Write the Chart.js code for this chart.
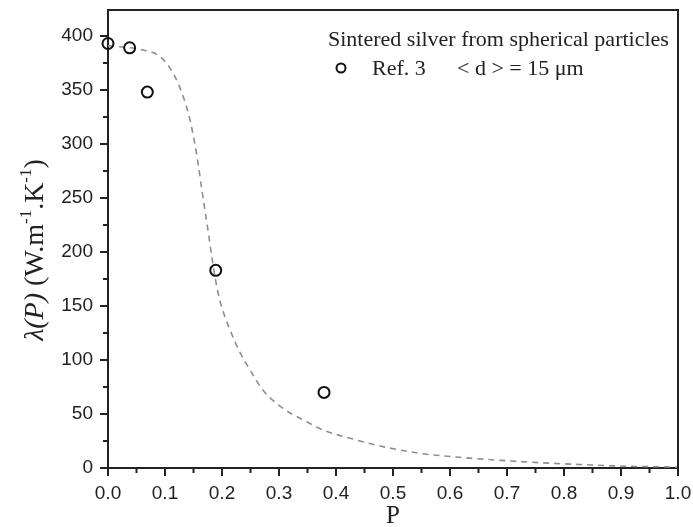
<!DOCTYPE html>
<html>
<head>
<meta charset="utf-8">
<script src="https://cdn.jsdelivr.net/npm/chart.js@4.4.1/dist/chart.umd.min.js"></script>
<style>
  html, body { margin: 0; padding: 0; background: #fff; }
  #wrap { width: 693px; height: 527px; }
</style>
</head>
<body>
<div id="wrap"><canvas id="chart" width="693" height="527"></canvas></div>
<script>
// measured points (Ref. 3)
const measP = [0.0, 0.038, 0.069, 0.189, 0.379];
const measL = [393, 389, 348, 183, 70];

// dashed model curve
const curveP = [0, 0.02, 0.056, 0.091, 0.109, 0.123, 0.135, 0.144, 0.151, 0.158, 0.164, 0.17, 0.176, 0.182, 0.188, 0.196, 0.214, 0.232, 0.249, 0.272, 0.3075, 0.343, 0.378, 0.425, 0.477, 0.547, 0.617, 0.688, 0.758, 0.82, 0.9, 1.0];
const curveL = [391, 390, 387.6, 381, 370, 356, 339, 322, 304, 282, 260, 239, 218, 196, 176, 155.5, 128, 106.5, 91, 72, 55, 44.4, 35, 27.5, 20.4, 13.6, 9.9, 7.1, 4.9, 3.4, 1.8, 0.8];

const xTicks = [0, 0.1, 0.2, 0.3, 0.4, 0.5, 0.6, 0.7, 0.8, 0.9, 1.0];
const yTicks = [0, 50, 100, 150, 200, 250, 300, 350, 400];

const INK = "#222";
const SERIF = "'Liberation Serif', 'DejaVu Serif', serif";
const SANS = "'Liberation Sans', Arial, sans-serif";

const framePlugin = {
  id: "frame",
  afterDraw(chart) {
    const { ctx, chartArea: a, scales } = chart;
    ctx.save();
    ctx.strokeStyle = INK;
    ctx.lineWidth = 2;
    // top + right border
    ctx.beginPath();
    ctx.moveTo(a.left, a.top);
    ctx.lineTo(a.right, a.top);
    ctx.lineTo(a.right, a.bottom);
    ctx.stroke();
    // minor ticks
    ctx.beginPath();
    for (let i = 0; i < xTicks.length - 1; i++) {
      const px = scales.x.getPixelForValue((xTicks[i] + xTicks[i + 1]) / 2);
      ctx.moveTo(px, a.bottom);
      ctx.lineTo(px, a.bottom + 5);
    }
    for (let i = 0; i < yTicks.length; i++) {
      const py = scales.y.getPixelForValue(yTicks[i] + 25);
      if (py < a.top) continue;
      ctx.moveTo(a.left, py);
      ctx.lineTo(a.left - 5, py);
    }
    ctx.stroke();

    // x title
    ctx.fillStyle = INK;
    ctx.font = "25px " + SERIF;
    ctx.textAlign = "center";
    ctx.textBaseline = "alphabetic";
    ctx.fillText("P", (a.left + a.right) / 2, 523);

    // y title, rotated, with superscripts
    ctx.translate(43, 250);
    ctx.rotate(-Math.PI / 2);
    const parts = [
      { t: "\u03BB(P)", f: "italic 28px " + SERIF, dy: 0 },
      { t: " (W.m", f: "28px " + SERIF, dy: 0 },
      { t: "-1", f: "17px " + SERIF, dy: -12 },
      { t: ".K", f: "28px " + SERIF, dy: 0 },
      { t: "-1", f: "17px " + SERIF, dy: -12 },
      { t: ")", f: "28px " + SERIF, dy: 0 },
    ];
    let total = 0;
    parts.forEach((p) => { ctx.font = p.f; total += ctx.measureText(p.t).width; });
    let x = -total / 2;
    ctx.textAlign = "left";
    parts.forEach((p) => {
      ctx.font = p.f;
      ctx.fillText(p.t, x, p.dy);
      x += ctx.measureText(p.t).width;
    });
    ctx.restore();

    // legend
    ctx.save();
    ctx.fillStyle = INK;
    ctx.font = "22px " + SERIF;
    ctx.textAlign = "left";
    ctx.textBaseline = "alphabetic";
    ctx.fillText("Sintered silver from spherical particles", 328, 46);
    ctx.fillText("Ref. 3", 372, 75);
    ctx.fillText("< d > = 15 \u03BCm", 457, 75);
    ctx.strokeStyle = "#111";
    ctx.lineWidth = 2;
    ctx.beginPath();
    ctx.arc(341, 68, 4.5, 0, Math.PI * 2);
    ctx.stroke();
    ctx.restore();
  },
};

new Chart(document.getElementById("chart"), {
  type: "scatter",
  data: {
    datasets: [
      {
        label: "model",
        data: curveP.map((p, i) => ({ x: p, y: curveL[i] })),
        showLine: true,
        borderColor: "#8e8e8e",
        borderWidth: 1.6,
        borderDash: [6, 5],
        pointRadius: 0,
        cubicInterpolationMode: "monotone",
        order: 2,
      },
      {
        label: "Ref. 3",
        data: measP.map((p, i) => ({ x: p, y: measL[i] })),
        showLine: false,
        pointStyle: "circle",
        pointRadius: 5.5,
        borderColor: "#111",
        borderWidth: 2,
        backgroundColor: "rgba(0,0,0,0)",
        order: 1,
      },
    ],
  },
  options: {
    responsive: false,
    animation: false,
    clip: false,
    layout: { padding: { left: 0, top: 10, right: 15, bottom: 0 } },
    plugins: { legend: { display: false }, tooltip: { enabled: false } },
    scales: {
      x: {
        type: "linear",
        min: 0,
        max: 1,
        afterBuildTicks: (s) => { s.ticks = xTicks.map((v) => ({ value: v })); },
        afterFit: (s) => { s.height = 59; s.paddingLeft = 0; s.paddingRight = 0; },
        border: { display: true, color: INK, width: 2 },
        grid: { drawOnChartArea: false, drawTicks: true, tickLength: 8, tickColor: INK, lineWidth: 2 },
        ticks: { color: INK, font: { family: SANS, size: 19 }, padding: 6, callback: (v) => Number(v).toFixed(1), maxRotation: 0 },
      },
      y: {
        type: "linear",
        min: 0,
        max: 424,
        afterBuildTicks: (s) => { s.ticks = yTicks.map((v) => ({ value: v })); },
        afterFit: (s) => { s.width = 108; s.paddingTop = 0; s.paddingBottom = 0; },
        border: { display: true, color: INK, width: 2 },
        grid: { drawOnChartArea: false, drawTicks: true, tickLength: 8, tickColor: INK, lineWidth: 2 },
        ticks: { color: INK, font: { family: SANS, size: 19 }, padding: 7 },
      },
    },
  },
  plugins: [framePlugin],
});
</script>
</body>
</html>
